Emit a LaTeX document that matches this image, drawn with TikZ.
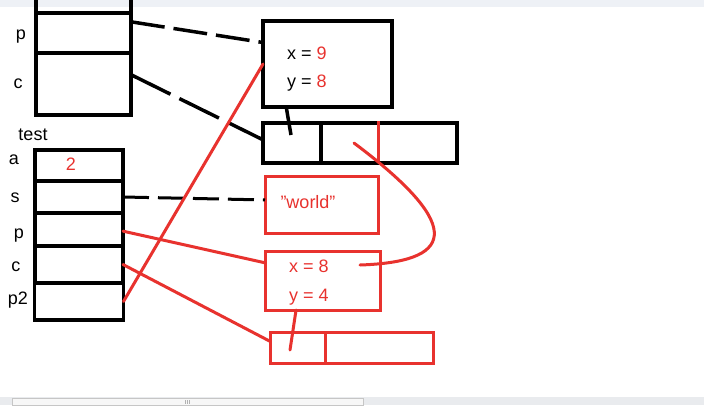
\documentclass[tikz,border=0pt]{standalone}
\usepackage{fontspec}
\setmainfont{Liberation Sans}
\usetikzlibrary{calc}
\definecolor{pen}{HTML}{E8322E}
\definecolor{barbg}{HTML}{E9EBEE}
\definecolor{topbg}{HTML}{EEF1F6}
\begin{document}
\begin{tikzpicture}[x=1pt,y=-1pt,
  bk/.style={draw=black,line width=3.5pt},
  rd/.style={draw=pen,line width=3pt},
  cell/.style={bk,rectangle,inner sep=0pt,outer sep=0pt},
  rcell/.style={rd,rectangle,inner sep=0pt,outer sep=0pt},
  lbl/.style={font=\fontsize{18}{21}\selectfont,inner sep=0pt,text height=12.5pt,text depth=3.5pt},
  rlbl/.style={lbl,text=pen},
  dsh/.style={bk,line width=3.5pt,dash pattern=on 34pt off 9pt},
  wire/.style={rd,line cap=round}]
\useasboundingbox (0,0) rectangle (704,405);
\fill[white] (0,0) rectangle (704,405);
% window chrome
\fill[topbg] (0,0) rectangle (704,7);
\fill[barbg] (0,397) rectangle (704,405);
\draw[gray!45,fill=gray!6,line width=0.6pt] (12,398.5) rectangle (363,405);
\draw[gray!60,line width=0.5pt] (185,400) -- (185,404) (187,400) -- (187,404) (189,400) -- (189,404);

% top stack frame (clipped at top)
\draw[bk] (36,-5) -- (36,13) (131,-5) -- (131,13);
\node[cell,minimum width=95,minimum height=40] (mp) at (83.5,33) {};
\node[cell,minimum width=95,minimum height=62] (mc) at (83.5,84) {};
\node[lbl] (lmp) at (21,35) {p};
\node[lbl] (lmc) at (18,84) {c};
\node[lbl] (ltest) at (33,136) {test};

% test frame
\node[cell,minimum width=88,minimum height=31] (ta) at (79,165.5) {};
\node[cell,minimum width=88,minimum height=32] (ts) at (79,197) {};
\node[cell,minimum width=88,minimum height=33] (tp) at (79,229.5) {};
\node[cell,minimum width=88,minimum height=37] (tc) at (79,264.5) {};
\node[cell,minimum width=89,minimum height=37] (tp2) at (79,301.5) {};
\node[lbl] (la) at (14,160) {a};
\node[lbl] (ls) at (15,198) {s};
\node[lbl] (lp) at (19,234) {p};
\node[lbl] (lc) at (16,267) {c};
\node[lbl] (lp2) at (18,300) {p2};
\node[rlbl] (va) at (71,166) {2};

% object 1 (black)
\node[cell,minimum width=129,minimum height=86] (obj1) at (327.5,64) {};
\node[lbl,anchor=west] (o1x) at (287,55) {x = \textcolor{pen}{9}};
\node[lbl,anchor=west] (o1y) at (287,83) {y = \textcolor{pen}{8}};

% array 1 (black)
\node[cell,minimum width=58,minimum height=40] (arr1a) at (292,143) {};
\node[cell,minimum width=136,minimum height=40] (arr1b) at (389,143) {};
\coordinate (rdivtop) at (378,121);
\coordinate (rdivbot) at (378,161);
\draw[rd] (rdivtop) -- (rdivbot);

% world string (red)
\node[rcell,minimum width=113,minimum height=57] (world) at (321.5,204.5) {};
\node[rlbl] (wtxt) at (308,204) {\symbol{34}world\symbol{34}};

% object 2 (red)
\node[rcell,minimum width=115,minimum height=59] (obj2) at (322.5,280.5) {};
\node[rlbl,anchor=west] (o2x) at (289,268) {x = 8};
\node[rlbl,anchor=west] (o2y) at (289,297) {y = 4};

% array 2 (red)
\node[rcell,minimum width=55,minimum height=31] (arr2a) at (297.5,347.5) {};
\node[rcell,minimum width=108,minimum height=31] (arr2b) at (379,347.5) {};

% inner pointer starts
\coordinate (a1in) at (291,135);
\coordinate (a1bin) at (354,143);
\coordinate (o2in) at (360,265);
\coordinate (a2in) at (290,350);

% black connectors
\draw[dsh] ($(mp.north east)!0.22!(mp.south east)$) -- ($(obj1.north west)!0.25!(obj1.south west)$);
\draw[dsh,dash pattern=on 44pt off 10pt] ($(mc.north east)!0.35!(mc.south east)$) -- ($(arr1a.north west)!0.42!(arr1a.south west)$);
\draw[bk] (a1in) -- ($(obj1.south west)!0.18!(obj1.south east)$);
\draw[dsh,line width=3pt,dash pattern=on 26pt off 9pt] (ts.east) -- ($(world.north west)!0.42!(world.south west)$);

% red connectors
\draw[wire] (tp2.east) -- (obj1.west);
\draw[wire] ($(tp.north east)!0.55!(tp.south east)$) -- ($(obj2.north west)!0.2!(obj2.south west)$);
\draw[wire] (tc.east) -- ($(arr2a.north west)!0.3!(arr2a.south west)$);
\draw[wire] (a2in) -- ($(obj2.south west)!0.27!(obj2.south east)$);
\draw[wire] (a1bin) .. controls (470,230) and (450,262) .. (o2in);
\end{tikzpicture}
\end{document}
